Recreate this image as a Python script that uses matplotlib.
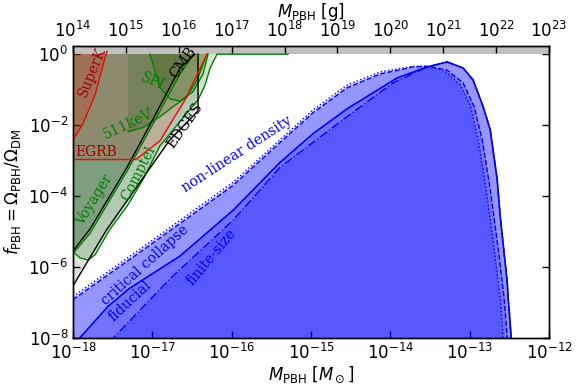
import numpy as np
import matplotlib
matplotlib.use("Agg")
import matplotlib.pyplot as plt

# ---- constraint curves, log10(M/Msun) and log10(f) ----
superk_lm = [-18.0, -17.874, -17.723, -17.584, -17.57]
superk_lf = [-2.41, -1.96, -1.15, 0.0, 0.08]

egrb_lm = [-18.0, -17.206, -16.903, -16.588, -16.310]
egrb_lf = [-2.97, -2.97, -2.44, -1.29, 0.0]

cmb_lm = [-18.0, -17.786, -17.319, -17.029, -16.651, -16.462]
cmb_lf = [-5.55, -4.93, -3.19, -1.99, -0.39, 0.0]

edges_lm = [-18.0, -17.571, -16.777, -16.424, -16.424]
edges_lf = [-6.53, -4.93, -2.41, -1.60, 0.0]

voyager_lm = [-18.0, -17.786, -17.319, -17.029, -16.651, -16.48]
voyager_lf = [-5.62, -5.05, -3.30, -2.12, -0.56, 0.0]

comptel_lm = [-18.0, -17.912, -17.811, -17.723, -17.533, -17.319, -17.117,
              -16.903, -16.651, -16.424, -16.335, -16.272, -16.184, -15.289]
comptel_lf = [-5.57, -5.74, -5.80, -5.66, -4.93, -4.29, -3.53,
              -2.58, -1.90, -1.29, -0.87, -0.39, 0.0, 0.0]

kev511_lm = [-17.306, -17.117, -16.903, -16.739, -16.562, -16.436, -16.310]
kev511_lf = [-2.18, -2.07, -1.76, -1.48, -1.20, -0.73, 0.0]

spi_lm = [-17.03, -16.903, -16.777, -16.651, -16.487, -16.361, -16.298]
spi_lf = [0.0, -0.95, -1.26, -1.32, -1.06, -0.56, 0.0]

# ---- PBH abundance curves ----
nonlin_lm = [-18.0, -17.029, -15.982, -15.390, -14.973, -14.545, -14.129, -13.712,
             -13.536, -13.309, -13.120, -12.994, -12.893, -12.792, -12.691, -12.615,
             -12.577, -12.565]
nonlin_lf = [-6.83, -5.29, -3.61, -2.41, -1.57, -0.87, -0.50, -0.34,
             -0.34, -0.48, -0.87, -1.43, -2.41, -3.81, -5.49, -6.89,
             -7.95, -8.57]

crit_lm = [-18.0, -17.029, -15.982, -15.390, -14.973, -14.545, -14.129, -13.712,
           -13.536, -13.284, -13.082, -12.943, -12.842, -12.741, -12.640, -12.565,
           -12.527, -12.514]
crit_lf = [-6.92, -5.38, -3.70, -2.49, -1.65, -0.95, -0.56, -0.36,
           -0.34, -0.45, -0.81, -1.48, -2.41, -3.81, -5.49, -6.89,
           -7.95, -8.57]

fid_lm = [-18.0, -17.887, -17.559, -17.294, -16.903, -16.651, -15.982, -15.390,
          -14.973, -14.545, -13.914, -13.536, -13.284, -13.082, -12.956, -12.830,
          -12.741, -12.653, -12.615, -12.527, -12.514, -12.477, -12.464]
fid_lf = [-8.21, -7.93, -7.11, -6.61, -6.05, -5.69, -4.40, -3.05,
          -2.24, -1.54, -0.67, -0.36, -0.22, -0.39, -0.73, -1.48,
          -2.13, -3.53, -4.57, -6.41, -6.89, -7.95, -8.57]

fin_lm = [-17.66, -17.470, -16.777, -15.982, -15.390, -14.545, -13.965, -13.536,
          -13.284, -13.082, -12.956, -12.830, -12.741, -12.653, -12.615, -12.527,
          -12.514, -12.477, -12.464]
fin_lf = [-8.43, -7.95, -6.33, -4.68, -3.19, -1.76, -0.81, -0.36,
          -0.22, -0.39, -0.73, -1.48, -2.13, -3.53, -4.57, -6.41,
          -6.89, -7.95, -8.57]

x_ticks_msun = [1e-18, 1e-17, 1e-16, 1e-15, 1e-14, 1e-13, 1e-12]
x_ticks_gram = [10.0**k for k in range(14, 24)]
y_ticks = [1e-8, 1e-6, 1e-4, 1e-2, 1e0]

YTOP = 1.7
YBOT = 1e-8

fig = plt.figure(figsize=(5.81, 3.88), dpi=100)
ax = fig.add_axes([73/581, 1-338/388, 476/581, 292/388])
ax.set_xscale('log')
ax.set_yscale('log')


def region(lm, lf, color, alpha, lw=1.0, ls='-'):
    m = 10.0**np.array(lm)
    f = 10.0**np.array(lf)
    xs = np.r_[m, m[-1], m[0]]
    ys = np.r_[f, YTOP, YTOP]
    ax.fill(xs, ys, color=color, alpha=alpha, lw=0, zorder=2)
    ax.plot(m, f, color=color, lw=lw, ls=ls, zorder=3)


region(voyager_lm, voyager_lf, 'green', 0.2)
region(comptel_lm, comptel_lf, 'green', 0.2)
region(kev511_lm, kev511_lf, 'green', 0.2)
region(spi_lm, spi_lf, 'green', 0.2)
region(cmb_lm, cmb_lf, 'k', 0.12)
region(edges_lm, edges_lf, 'k', 0.12)
region(egrb_lm, egrb_lf, 'red', 0.12)
region(superk_lm, superk_lf, 'red', 0.18)

# PBH abundance
for lm, lf, ls, lw in [(nonlin_lm, nonlin_lf, ':', 1.0),
                       (crit_lm, crit_lf, '--', 1.0),
                       (fid_lm, fid_lf, '-', 1.2),
                       (fin_lm, fin_lf, '-.', 1.0)]:
    m = 10.0**np.array(lm)
    f = 10.0**np.array(lf)
    ax.fill_between(m, f, 1e-9, color='blue', alpha=0.23, lw=0, zorder=2)
    ax.plot(m, f, color='blue', ls=ls, lw=lw, zorder=3)

ax.axhspan(1.0, YTOP, color='#c0c0c0', zorder=2.5, lw=0)

# labels
tkw = dict(family='DejaVu Serif', fontsize=10, ha='center', va='center',
           transform=ax.transAxes, zorder=5)
ax.text(0.040, 0.910, 'SuperK', color='#a00000', rotation=68, **tkw)
ax.text(0.048, 0.637, 'EGRB', color='#a00000', rotation=0, **tkw)
ax.text(0.116, 0.733, '511keV', color='green', rotation=25, **tkw)
ax.text(0.168, 0.880, 'SPI', color='green', rotation=-25, **tkw)
ax.text(0.231, 0.945, 'CMB', color='k', rotation=55, **tkw)
ax.text(0.235, 0.729, 'EDGES', color='k', rotation=55, **tkw)
ax.text(0.137, 0.565, 'Comptel', color='green', rotation=63, **tkw)
ax.text(0.046, 0.473, 'Voyager', color='green', rotation=58, **tkw)
ax.text(0.345, 0.630, 'non-linear density', color='blue', rotation=33, **tkw)
ax.text(0.151, 0.250, 'critical collapse', color='blue', rotation=42, **tkw)
ax.text(0.120, 0.128, 'fiducial', color='blue', rotation=43, **tkw)
ax.text(0.290, 0.277, 'finite-size', color='blue', rotation=50, **tkw)

ax.set_xlim(1e-18, 1e-12)
ax.set_ylim(YBOT, YTOP)
ax.set_xticks(x_ticks_msun)
ax.set_yticks(y_ticks)
ax.minorticks_off()
ax.tick_params(which='both', direction='in', length=5, width=1, labelsize=12,
               top=False, right=True)
ax.set_xlabel(r'$M_{\rm PBH}$ [$M_\odot$]', fontsize=12, labelpad=1)
ax.set_ylabel(r'$f_{\rm PBH} = \Omega_{\rm PBH}/\Omega_{\rm DM}$', fontsize=12)

ax2 = ax.twiny()
ax2.set_xscale('log')
ax2.set_xlim(1e14, 1e23)
ax2.set_xticks(x_ticks_gram)
ax2.minorticks_off()
ax2.tick_params(direction='in', length=5, width=1, labelsize=12)
ax2.set_xlabel(r'$M_{\rm PBH}$ [g]', fontsize=12, labelpad=3)

for a in (ax, ax2):
    for s in a.spines.values():
        s.set_linewidth(1.0)

fig.savefig('out.png', dpi=100)
